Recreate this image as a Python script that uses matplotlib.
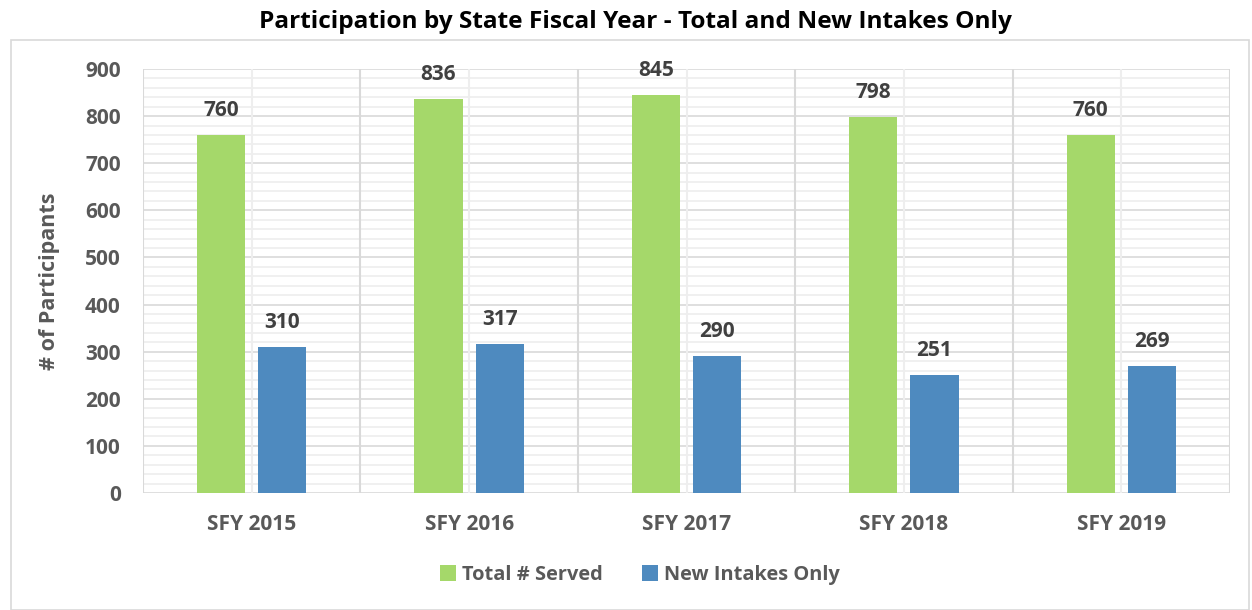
import numpy as np
import matplotlib.pyplot as plt
from matplotlib.patches import Rectangle

# 데이터
years = ["SFY 2015", "SFY 2016", "SFY 2017", "SFY 2018", "SFY 2019"]
total_served = [760, 836, 845, 798, 760]
new_intakes = [310, 317, 290, 251, 269]

green = "#A5D86A"
blue = "#4E8ABF"
text_gray = "#595959"
label_gray = "#404040"
major_c = "#D9D9D9"
minor_c = "#EEEEEE"

plt.rcParams['font.family'] = ['Open Sans', 'DejaVu Sans']
plt.rcParams['font.weight'] = 'bold'

fig = plt.figure(figsize=(12.52, 6.10), dpi=100)
W, H = 1252, 610
ax = fig.add_axes([143 / W, 1 - 493 / H, (1230 - 143) / W, (493 - 69) / H])

x = np.arange(len(years))
bw = 0.222
off = 0.141
ax.bar(x - off, total_served, bw, color=green, label="Total # Served", zorder=3)
ax.bar(x + off, new_intakes, bw, color=blue, label="New Intakes Only", zorder=3)

for xi, v in zip(x, total_served):
    ax.text(xi - off, v + 30, str(v), ha='center', va='bottom', fontsize=15,
            color=label_gray, fontweight='bold')
for xi, v in zip(x, new_intakes):
    ax.text(xi + off, v + 30, str(v), ha='center', va='bottom', fontsize=15,
            color=label_gray, fontweight='bold')

ax.set_xlim(-0.5, len(years) - 0.5)
ax.set_ylim(0, 900)

# 격자
ax.set_yticks(np.arange(0, 901, 100))
ax.set_xticks(x)
ax.set_xticklabels(years)
for yv in np.arange(0, 901, 20):
    ax.axhline(yv, color=major_c if yv % 100 == 0 else minor_c, lw=1.2, zorder=1)
for xv in np.arange(-0.5, len(years), 1.0):
    ax.axvline(xv, color=major_c, lw=1.5, zorder=1)
for xv in x:
    ax.axvline(xv, color=minor_c, lw=1.5, zorder=1)

ax.tick_params(axis='both', which='both', length=0, labelsize=15, labelcolor=text_gray)
ax.tick_params(axis='y', pad=16)
ax.tick_params(axis='x', pad=15)
for s in ax.spines.values():
    s.set_visible(False)

ax.set_ylabel("# of Participants", fontsize=15.5, color=text_gray, fontweight='bold', labelpad=18)

fig.text(635 / W, 1 - 22 / H, "Participation by State Fiscal Year - Total and New Intakes Only",
         ha='center', va='center', fontsize=17.6, fontweight='bold', color='black')

leg = fig.legend(loc='center', bbox_to_anchor=(640 / W, 1 - 575 / H), ncol=2, frameon=False,
                 fontsize=14.4, handlelength=0.8, handleheight=0.8, handletextpad=0.3,
                 columnspacing=2.0)
for t in leg.get_texts():
    t.set_color(text_gray)

fig.patches.append(Rectangle((11 / W, 0.5 / H), (1249 - 11) / W, (609.5 - 40) / H,
                             transform=fig.transFigure, fill=False, edgecolor=major_c, lw=1.2))

fig.savefig("out.png", dpi=100)
